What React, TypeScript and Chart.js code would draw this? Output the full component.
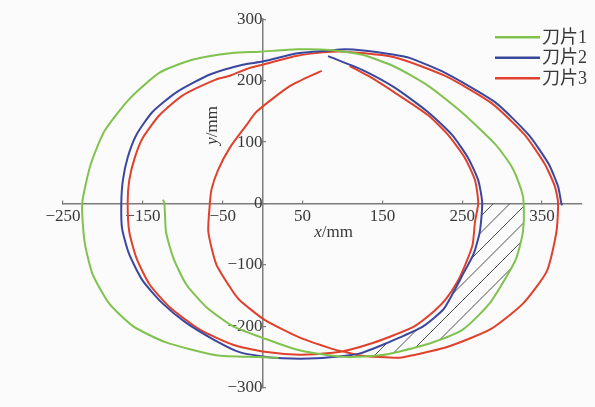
import React, { useEffect, useRef } from 'react';
import { Chart, registerables } from 'chart.js';

Chart.register(...registerables);

// ---- data (mm) ----
const seriesNames = ['刀片1', '刀片2', '刀片3'];
const seriesColors = ['#80c24e', '#3b479e', '#e0412c'];

const blade1X = [-125, -123, -121, -112, -96, -71, -37, 5, 46, 88, 109, 147, 168, 209, 251, 284, 305, 318, 326, 327, 324, 312, 291, 249, 207, 165, 125, 84, 43, -4, -38, -88, -129, -167, -198, -215, -226, -223, -213, -192, -162, -121, -58, -4, 20];
const blade1Y = [6, 1, -46, -88, -131, -168, -200, -221, -239, -248, -250, -247, -242, -228, -205, -163, -120, -88, -46, 0, 22, 60, 97, 149, 192, 223, 242, 250, 251, 247, 245, 234, 213, 170, 118, 65, 0, -62, -115, -163, -200, -226, -247, -250, -251];

const blade2X = [82, 124, 165, 207, 237, 257, 270, 275, 272, 264, 251, 238, 226, 201, 172, 143, 122, 109, 67, 25, 0, -29, -62, -96, -125, -150, -167, -176, -177, -175, -169, -158, -138, -108, -66, -25, 0, 42, 84, 103, 126, 165, 184, 228, 291, 333, 358, 370, 374, 375];
const blade2Y = [240, 218, 189, 149, 112, 75, 38, 1, -46, -83, -115, -147, -173, -200, -218, -234, -244, -247, -252, -252, -249, -242, -221, -194, -163, -126, -83, -41, 0, 38, 75, 112, 149, 181, 210, 226, 231, 244, 249, 251, 249, 242, 237, 213, 165, 112, 65, 28, 1, -3];

const blade3X = [74, 34, -8, -20, -41, -56, -64, -66, -68, -58, -40, -29, 2, 46, 88, 101, 120, 147, 172, 188, 230, 285, 326, 356, 368, 370, 366, 353, 328, 287, 228, 165, 103, 76, 42, 0, -20, -41, -58, -100, -129, -150, -160, -167, -169, -167, -158, -142, -117, -79, -37, 0, 46, 88, 109, 138, 165, 190, 215, 230, 245, 255, 263, 266, 270, 266, 253, 232, 207, 165, 132, 109];
const blade3Y = [216, 191, 149, 128, 91, 54, 23, 1, -46, -99, -138, -157, -189, -218, -237, -241, -247, -250, -251, -247, -234, -205, -163, -110, -46, 1, 28, 65, 112, 163, 208, 238, 247, 246, 240, 226, 219, 208, 202, 176, 144, 107, 75, 38, 1, -46, -89, -131, -168, -205, -230, -241, -246, -243, -238, -227, -214, -200, -175, -155, -125, -96, -67, -30, 1, 38, 75, 112, 144, 181, 208, 224];

// outline of the hatched (overlap) region
const hatchX = [327, 326, 318, 305, 284, 251, 209, 168, 147, 125, 122, 143, 172, 201, 226, 238, 251, 264, 272, 275];
const hatchY = [0, -46, -88, -120, -163, -205, -228, -242, -247, -249, -244, -234, -218, -200, -173, -147, -115, -83, -46, 0];

const xTickValues = [-250, -150, -50, 50, 150, 250, 350];
const yTickValues = [-300, -200, -100, 0, 100, 200, 300];
const xRange = [-250, 400];
const yRange = [-300, 300];

const xTitle = { italic: 'x', rest: '/mm', at: [89, -47] };
const yTitle = { italic: 'y', rest: '/mm', at: [-63, 127] };

const toPts = (xs: number[], ys: number[]) => xs.map((x, i) => ({ x, y: ys[i] }));
const fmt = (v: number) => String(v).replace('-', '\u2212');

const serif = '"Liberation Serif", "Times New Roman", serif';
const labelColor = '#383838';
const axisColor = '#7d7d7d';

function makeHatch(ctx: CanvasRenderingContext2D) {
  const P = 33;
  const c = document.createElement('canvas');
  c.width = P;
  c.height = P;
  const g = c.getContext('2d')!;
  g.strokeStyle = '#4d4d4d';
  g.lineWidth = 1;
  for (const s of [0, 16.5, 33, 49.5, 66]) {
    g.beginPath();
    g.moveTo(s + 5, -5);
    g.lineTo(s - P - 5, P + 5);
    g.stroke();
  }
  const pat = ctx.createPattern(c, 'repeat')!;
  pat.setTransform(new DOMMatrix([1, 0, 0, 1, 4, 0]));
  return pat;
}

const overlayPlugin = {
  id: 'overlay',
  afterDraw(chart: any) {
    const ctx = chart.ctx as CanvasRenderingContext2D;
    const xs = chart.scales.x;
    const ys = chart.scales.y;
    const fs = 17;
    ctx.save();
    ctx.fillStyle = labelColor;
    ctx.textBaseline = 'middle';
    // x title
    {
      const px = xs.getPixelForValue(xTitle.at[0]);
      const py = ys.getPixelForValue(xTitle.at[1]);
      ctx.font = `italic ${fs}px ` + serif;
      const w1 = ctx.measureText(xTitle.italic).width;
      ctx.font = `${fs}px ` + serif;
      const w2 = ctx.measureText(xTitle.rest).width;
      const x0 = px - (w1 + w2) / 2;
      ctx.textAlign = 'left';
      ctx.font = `italic ${fs}px ` + serif;
      ctx.fillText(xTitle.italic, x0, py);
      ctx.font = `${fs}px ` + serif;
      ctx.fillText(xTitle.rest, x0 + w1, py);
    }
    // y title (rotated)
    {
      const px = xs.getPixelForValue(yTitle.at[0]);
      const py = ys.getPixelForValue(yTitle.at[1]);
      ctx.translate(px, py);
      ctx.rotate(-Math.PI / 2);
      ctx.font = `italic ${fs}px ` + serif;
      const w1 = ctx.measureText(yTitle.italic).width;
      ctx.font = `${fs}px ` + serif;
      const w2 = ctx.measureText(yTitle.rest).width;
      const x0 = -(w1 + w2) / 2;
      ctx.textAlign = 'left';
      ctx.font = `italic ${fs}px ` + serif;
      ctx.fillText(yTitle.italic, x0, 0);
      ctx.font = `${fs}px ` + serif;
      ctx.fillText(yTitle.rest, x0 + w1, 0);
    }
    ctx.restore();

    // legend (top right)
    ctx.save();
    const area = chart.chartArea;
    const lx0 = area.right - 87;
    const lx1 = lx0 + 45;
    ctx.font = '18px "Liberation Serif", "Noto Sans CJK SC", serif';
    ctx.textAlign = 'left';
    ctx.textBaseline = 'middle';
    seriesNames.forEach((name, i) => {
      const y = area.top + 18 + i * 20.5;
      ctx.strokeStyle = seriesColors[i];
      ctx.lineWidth = 2.5;
      ctx.beginPath();
      ctx.moveTo(lx0, y);
      ctx.lineTo(lx1, y);
      ctx.stroke();
      ctx.fillStyle = labelColor;
      ctx.fillText(name, lx1 + 2, y + 1);
    });
    ctx.restore();
  },
};

export default function App() {
  const ref = useRef<HTMLCanvasElement>(null);
  useEffect(() => {
    const canvas = ref.current!;
    const ctx = canvas.getContext('2d')!;
    const hatch = makeHatch(ctx);
    const blades = [toPts(blade1X, blade1Y), toPts(blade2X, blade2Y), toPts(blade3X, blade3Y)];
    const chart = new Chart(ctx, {
      type: 'line',
      data: {
        datasets: [
          ...blades.map((pts, i) => ({
            label: seriesNames[i],
            data: pts,
            borderColor: seriesColors[i],
            backgroundColor: seriesColors[i],
            borderWidth: 2,
            pointRadius: 0,
            fill: false,
            tension: 0.2,
          })),
          {
            label: 'hatch',
            data: toPts(hatchX, hatchY),
            borderWidth: 0,
            borderColor: 'rgba(0,0,0,0)',
            backgroundColor: hatch as any,
            pointRadius: 0,
            fill: 'shape' as any,
            tension: 0.2,
          },
        ],
      },
      options: {
        responsive: false,
        animation: false,
        events: [],
        layout: { padding: { left: 63, right: 13, top: 15, bottom: 14 } },
        plugins: { legend: { display: false }, tooltip: { enabled: false } },
        scales: {
          x: {
            type: 'linear',
            min: xRange[0],
            max: xRange[1],
            position: { y: 0 } as any,
            afterBuildTicks: (s: any) => {
              s.ticks = xTickValues.map((v) => ({ value: v }));
            },
            grid: { drawOnChartArea: false, drawTicks: true, tickLength: -4, color: axisColor, lineWidth: 1.2 },
            border: { display: true, color: axisColor, width: 1.5 },
            ticks: {
              padding: 7,
              color: labelColor,
              font: { family: serif, size: 17 },
              maxRotation: 0,
              autoSkip: false,
              callback: (v: any) => fmt(Number(v)),
            },
          },
          y: {
            type: 'linear',
            min: yRange[0],
            max: yRange[1],
            position: { x: 0 } as any,
            afterBuildTicks: (s: any) => {
              s.ticks = yTickValues.map((v) => ({ value: v }));
            },
            grid: { drawOnChartArea: false, drawTicks: true, tickLength: -4, color: axisColor, lineWidth: 1.2 },
            border: { display: true, color: axisColor, width: 1.5 },
            ticks: {
              padding: 9,
              color: labelColor,
              font: { family: serif, size: 17 },
              autoSkip: false,
              callback: (v: any) => fmt(Number(v)),
            },
          },
        },
      },
      plugins: [overlayPlugin],
    });
    return () => chart.destroy();
  }, []);
  return (
    <div style={{ position: 'fixed', left: 0, top: 0, width: 595, height: 407, background: '#fbfbfb' }}>
      <canvas ref={ref} width={595} height={407} style={{ display: 'block', width: 595, height: 407 }} />
    </div>
  );
}
